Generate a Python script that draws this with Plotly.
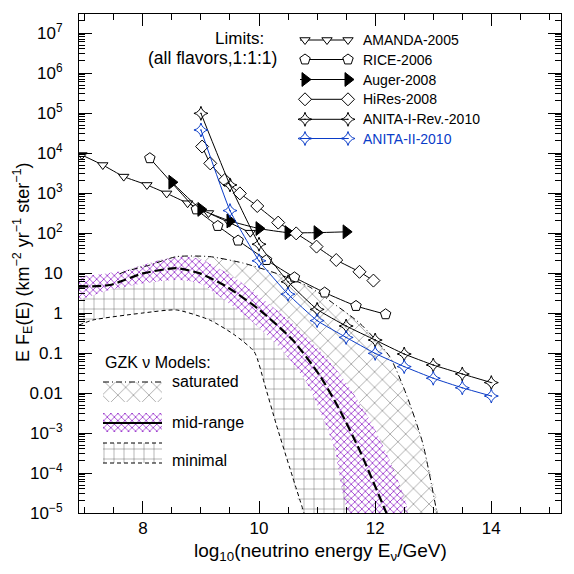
import plotly.graph_objects as go

# ---------------- data (x = log10(E/GeV), y = E F(E) in km^-2 yr^-1 sr^-1) ----------------
amanda_x = [6.95, 7.31, 7.67, 8.07, 8.41, 8.77, 9.13, 9.49, 9.85]
amanda_y = [8900, 5000, 2570, 1590, 977, 556, 316, 182, 102]

rice_x = [8.12, 8.92, 9.29, 9.64, 10.13, 10.61, 11.13, 11.67, 12.18]
rice_y = [7400, 389, 150, 64.6, 21.1, 7.76, 3.24, 1.50, 0.93]

auger_x = [8.5, 9.0, 9.5, 10.0, 10.5, 11.0, 11.5]
auger_y = [1860, 389, 200, 129, 102, 102, 107]

hires_x = [9.02, 9.16, 9.41, 9.67, 9.97, 10.33, 10.64, 10.99, 11.33, 11.73, 11.97]
hires_y = [14500, 5500, 2110, 977, 473, 182, 97.7, 45.7, 21.1, 10.7, 6.46]

anita1_x = [9.0, 9.5, 10.0, 10.5, 11.0, 11.5, 12.0, 12.5, 13.0, 13.5, 14.0]
anita1_y = [9.8e4, 1590, 52.5, 6.03, 1.23, 0.473, 0.211, 0.0944, 0.0501, 0.0299, 0.0182]

anita2_x = [9.0, 9.5, 10.0, 10.5, 11.0, 11.5, 12.0, 12.5, 13.0, 13.5, 14.0]
anita2_y = [3.76e4, 363, 20.2, 2.95, 0.646, 0.245, 0.0977, 0.0457, 0.0234, 0.0135, 0.0084]

# GZK model bands
sat_upper_x = [7.60, 7.72, 8.12, 8.58, 9.15, 9.72, 10.30, 10.87, 11.27, 11.73, 12.25, 12.54, 12.82, 13.07]
sat_upper_y = [9.55, 11.2, 15.8, 25.7, 25.7, 17.8, 9.77, 4.47, 1.78, 0.562, 0.0813, 0.00891, 5.5e-4, 9e-6]

mid_upper_x = [6.9, 7.37, 7.72, 8.29, 8.75, 9.03, 9.55, 10.01, 10.58, 11.04, 11.47, 11.91, 12.25, 12.55]
mid_upper_y = [8.13, 9.77, 11.9, 21.1, 25.7, 21.1, 8.13, 2.57, 0.55, 0.119, 0.0211, 0.00211, 2.11e-4, 9.5e-6]

mid_lower_x = [6.9, 7.43, 8.0, 8.58, 8.98, 9.32, 9.78, 10.35, 10.79, 11.04, 11.30, 11.57]
mid_lower_y = [2.11, 3.76, 5.50, 6.68, 5.50, 2.57, 0.813, 0.141, 0.0211, 0.00376, 4.2e-4, 9.5e-6]

mid_central_x = [6.9, 7.43, 8.0, 8.58, 8.98, 9.44, 10.01, 10.58, 11.04, 11.39, 11.73, 12.20]
mid_central_y = [4.57, 5.01, 9.77, 13.2, 9.77, 4.57, 1.19, 0.211, 0.0282, 0.00376, 3.76e-4, 9.5e-6]

min_lower_x = [6.9, 7.14, 8.0, 8.58, 9.15, 9.58, 9.92, 10.10, 10.30, 10.53, 10.78]
min_lower_y = [0.50, 0.668, 1.0, 1.19, 0.668, 0.282, 0.106, 0.0158, 0.00158, 1.33e-4, 9.5e-6]

limit_names = ["AMANDA-2005", "RICE-2006", "Auger-2008", "HiRes-2008", "ANITA-I-Rev.-2010", "ANITA-II-2010"]

x_ticks = [8, 10, 12, 14]
y_tick_exp = list(range(-5, 8))
y_tick_text = ["10<sup>\u22125</sup>", "10<sup>\u22124</sup>", "10<sup>\u22123</sup>", "0.01", "0.1", "1", "10",
               "10<sup>2</sup>", "10<sup>3</sup>", "10<sup>4</sup>", "10<sup>5</sup>", "10<sup>6</sup>", "10<sup>7</sup>"]

# ---------------- styles ----------------
BLUE = "#0a3cc8"
PURPLE = "#9933cc"
FONT = "Liberation Sans, Arial, sans-serif"
TRANSP = "rgba(0,0,0,0)"

sat_pat = dict(shape="x", size=11, solidity=0.07, fgcolor="black", fgopacity=0.8, bgcolor=TRANSP)
mid_pat = dict(shape="x", size=5, solidity=0.3, fgcolor=PURPLE, fgopacity=1.0, bgcolor=TRANSP)
min_pat = dict(shape="+", size=10, solidity=0.07, fgcolor="black", fgopacity=0.8, bgcolor=TRANSP)

# page offset (browser body margin) and plot area in reference pixels
OFF = 8
PL, PR, PT, PB = 79, 561, 14, 513
FIG_W = FIG_H = 574 - OFF

fig = go.Figure()

def band(x, y, pat):
    fig.add_trace(go.Scatter(x=x, y=y, fill="toself", mode="lines",
                             line=dict(width=0, shape="spline", smoothing=0.6),
                             fillcolor=TRANSP, fillpattern=pat,
                             hoverinfo="skip", showlegend=False))

keep = [i for i, v in enumerate(mid_upper_x) if v >= sat_upper_x[0]]
band(sat_upper_x + [mid_upper_x[i] for i in keep][::-1],
     sat_upper_y + [mid_upper_y[i] for i in keep][::-1], sat_pat)
band(min_lower_x + mid_lower_x[::-1], min_lower_y + mid_lower_y[::-1], min_pat)
band(mid_upper_x + mid_lower_x[::-1], mid_upper_y + mid_lower_y[::-1], mid_pat)

fig.add_trace(go.Scatter(x=sat_upper_x, y=sat_upper_y, mode="lines",
                         line=dict(color="black", width=1, dash="6px,3px,1px,3px", shape="spline", smoothing=0.6),
                         hoverinfo="skip", showlegend=False))
fig.add_trace(go.Scatter(x=min_lower_x, y=min_lower_y, mode="lines",
                         line=dict(color="black", width=1, dash="4px,3px", shape="spline", smoothing=0.6),
                         hoverinfo="skip", showlegend=False))
fig.add_trace(go.Scatter(x=mid_central_x, y=mid_central_y, mode="lines",
                         line=dict(color="black", width=2.2, dash="9px,4px", shape="spline", smoothing=0.6),
                         hoverinfo="skip", showlegend=False))

limit_styles = [
    (amanda_x, amanda_y, dict(symbol="triangle-down", size=9, color="white", line=dict(color="black", width=1)), "black"),
    (rice_x, rice_y, dict(symbol="pentagon", size=11, color="white", line=dict(color="black", width=1)), "black"),
    (auger_x, auger_y, dict(symbol="triangle-right", size=12, color="black", line=dict(color="black", width=1)), "black"),
    (hires_x, hires_y, dict(symbol="diamond", size=10, color="white", line=dict(color="black", width=1)), "black"),
    (anita1_x, anita1_y, dict(symbol="star-diamond-open-dot", size=10, color="black", line=dict(color="black", width=1)), "black"),
    (anita2_x, anita2_y, dict(symbol="star-diamond-open-dot", size=10, color=BLUE, line=dict(color=BLUE, width=1)), BLUE),
]
for (xs, ys, mk, col), name in zip(limit_styles, limit_names):
    fig.add_trace(go.Scatter(x=xs, y=ys, mode="lines+markers", name=name,
                             line=dict(color=col, width=1, shape="spline", smoothing=0.4),
                             marker=mk, showlegend=False))

# ---------------- legend keys (overlay axes in reference pixel units) ----------------
rows_y = [40, 59.5, 79.5, 99.3, 119.3, 138.5]
annotations = []
for (xs, ys, mk, col), name, ry in zip(limit_styles, limit_names, rows_y):
    mx = [305, 327, 348] if name.startswith("AMANDA") else [305, 348]
    fig.add_trace(go.Scatter(x=[300, 348], y=[ry, ry], xaxis="x2", yaxis="y2", mode="lines",
                             line=dict(color=col, width=1), hoverinfo="skip", showlegend=False))
    fig.add_trace(go.Scatter(x=mx, y=[ry] * len(mx), xaxis="x2", yaxis="y2", mode="markers",
                             marker=mk, hoverinfo="skip", showlegend=False))
    annotations.append(dict(x=361, y=ry, xref="x2", yref="y2", text=name, showarrow=False,
                            xanchor="left", yanchor="middle",
                            font=dict(family=FONT, size=14, color=col)))

def swatch(y0, y1, pat):
    fig.add_trace(go.Scatter(x=[103, 162, 162, 103, 103], y=[y0, y0, y1, y1, y0], xaxis="x2", yaxis="y2",
                             fill="toself", mode="lines", line=dict(width=0), fillcolor=TRANSP,
                             fillpattern=pat, hoverinfo="skip", showlegend=False))

def hline(y, width, dash):
    fig.add_trace(go.Scatter(x=[103, 162], y=[y, y], xaxis="x2", yaxis="y2", mode="lines",
                             line=dict(color="black", width=width, dash=dash),
                             hoverinfo="skip", showlegend=False))

swatch(382, 402, sat_pat); hline(382, 1, "6px,3px,1px,3px")
swatch(413, 432, mid_pat); hline(423, 2, "solid")
swatch(443, 463, min_pat); hline(443, 1, "4px,3px"); hline(463, 1, "4px,3px")

txt = lambda s, x, y, size, xa="left": dict(x=x, y=y, xref="x2", yref="y2", text=s, showarrow=False,
                                             xanchor=xa, yanchor="middle",
                                             font=dict(family=FONT, size=size, color="black"))
annotations += [
    txt("Limits:", 239, 38, 17, "center"),
    txt("(all flavors,1:1:1)", 212, 58, 17.5, "center"),
    txt("GZK \u03bd Models:", 103, 362, 16),
    txt("saturated", 170, 381, 16),
    txt("mid-range", 170, 422, 16),
    txt("minimal", 170, 460, 16),
]

def paper(px, py):
    return (px - PL) / (PR - PL), (PB - py) / (PB - PT)

xt = paper(320, 552)
yt = paper(22, 262)
annotations.append(dict(x=xt[0], y=xt[1], xref="paper", yref="paper", showarrow=False,
                        text="log<sub>10</sub>(neutrino energy E<sub>\u03bd</sub>/GeV)",
                        xanchor="center", yanchor="middle", font=dict(family=FONT, size=19, color="black")))
annotations.append(dict(x=yt[0], y=yt[1], xref="paper", yref="paper", showarrow=False, textangle=-90,
                        text="E F<sub>E</sub>(E) (km<sup>\u22122</sup> yr<sup>\u22121</sup> ster<sup>\u22121</sup>)",
                        xanchor="center", yanchor="middle", font=dict(family=FONT, size=18, color="black")))

x_minor = [7 + 0.5 * i for i in range(17)]
y_minor = [m * 10.0 ** k for k in range(-5, 8) for m in range(2, 10)]

fig.update_layout(
    width=FIG_W, height=FIG_H,
    margin=dict(l=PL - OFF, r=574 - PR, t=PT - OFF, b=574 - PB, pad=0),
    paper_bgcolor="white", plot_bgcolor="white",
    showlegend=False,
    annotations=annotations,
    xaxis=dict(range=[6.9, 15.2], tickmode="array", tickvals=x_ticks, ticktext=[str(v) for v in x_ticks],
               ticks="inside", ticklen=12, tickwidth=1, tickcolor="black",
               minor=dict(tickmode="array", tickvals=x_minor, ticks="inside", ticklen=6, tickwidth=1, tickcolor="black"),
               showline=True, linecolor="black", linewidth=1, mirror="ticks", showgrid=False, zeroline=False,
               tickfont=dict(family=FONT, size=17, color="black"), ticklabelstandoff=0),
    yaxis=dict(type="log", range=[-5, 7.475], tickmode="array", tickvals=[10.0 ** e for e in y_tick_exp],
               ticktext=y_tick_text, ticks="inside", ticklen=13, tickwidth=1, tickcolor="black",
               minor=dict(tickmode="array", tickvals=y_minor, ticks="inside", ticklen=6, tickwidth=1, tickcolor="black"),
               showline=True, linecolor="black", linewidth=1, mirror="ticks", showgrid=False, zeroline=False,
               tickfont=dict(family=FONT, size=17, color="black"), ticklabelstandoff=12),
    xaxis2=dict(overlaying="x", range=[PL, PR], visible=False, showgrid=False, zeroline=False),
    yaxis2=dict(overlaying="y", range=[PB, PT], visible=False, showgrid=False, zeroline=False),
)

fig.write_html("out.html")
